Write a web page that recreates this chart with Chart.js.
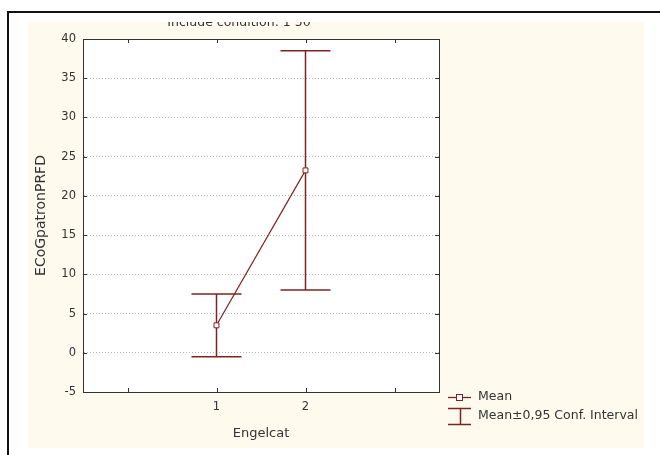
<!DOCTYPE html>
<html>
<head>
<meta charset="utf-8">
<script src="https://cdn.jsdelivr.net/npm/chart.js@4.4.1/dist/chart.umd.min.js"></script>
<style>
html,body{margin:0;padding:0;background:#fff;}
#wrap{width:660px;height:455px;position:relative;}
</style>
</head>
<body>
<div id="wrap"><canvas id="c" width="660" height="455"></canvas></div>
<script>
// ---- data ----
const categories = [1, 2];
const means = [3.5, 23.25];
const ciLow = [-0.5, 8.0];
const ciHigh = [7.5, 38.5];
const yTicks = [-5, 0, 5, 10, 15, 20, 25, 30, 35, 40];
const xTickPositions = [0, 1, 2, 3];
const xTickLabels = ['', '1', '2', ''];
const titleText = 'Include condition: 1 50';
const yTitle = 'ECoGpatronPRFD';
const xTitle = 'Engelcat';
const legendLabels = ['Mean', 'Mean\u00B10,95 Conf. Interval'];

const RED = '#7e2222';
const FONT = 'DejaVu Sans';

const meanData = categories.map((c, i) => ({x: c, y: means[i]}));
const barData = [];
categories.forEach((c, i) => {
  barData.push({x: c, y: ciLow[i]});
  barData.push({x: c, y: ciHigh[i]});
  barData.push({x: c, y: null});
});
const capData = [];
categories.forEach((c, i) => {
  capData.push({x: c, y: ciLow[i]});
  capData.push({x: c, y: ciHigh[i]});
});

const framePlugin = {
  id: 'frame',
  beforeDraw(chart) {
    const ctx = chart.ctx;
    ctx.save();
    ctx.fillStyle = '#ffffff';
    ctx.fillRect(0, 0, 660, 455);
    ctx.fillStyle = '#111';
    ctx.fillRect(7, 11, 653, 2);
    ctx.fillRect(7, 11, 2, 444);
    ctx.fillStyle = '#fffaee';
    ctx.fillRect(28, 22, 616, 426);
    const a = chart.chartArea;
    ctx.fillStyle = '#ffffff';
    ctx.fillRect(a.left, a.top, a.right - a.left, a.bottom - a.top);
    ctx.beginPath();
    ctx.rect(28, 22, 616, 426);
    ctx.clip();
    ctx.fillStyle = '#333';
    ctx.font = '12.5px "' + FONT + '"';
    ctx.textAlign = 'center';
    ctx.textBaseline = 'alphabetic';
    ctx.fillText(titleText, 239, 26);
    ctx.restore();
  },
  afterDraw(chart) {
    const ctx = chart.ctx;
    const a = chart.chartArea;
    const xs = chart.scales.x, ys = chart.scales.y;
    ctx.save();
    ctx.strokeStyle = '#333';
    ctx.lineWidth = 1;
    ctx.strokeRect(Math.round(a.left) + 0.5, Math.round(a.top) + 0.5,
      Math.round(a.right - a.left), Math.round(a.bottom - a.top));
    ctx.beginPath();
    xTickPositions.forEach(v => {
      const px = Math.round(xs.getPixelForValue(v)) + 0.5;
      ctx.moveTo(px, a.top); ctx.lineTo(px, a.top + 4);
      ctx.moveTo(px, a.bottom); ctx.lineTo(px, a.bottom - 4);
    });
    yTicks.forEach(v => {
      const py = Math.round(ys.getPixelForValue(v)) + 0.5;
      ctx.moveTo(a.left, py); ctx.lineTo(a.left + 4, py);
      ctx.moveTo(a.right, py); ctx.lineTo(a.right - 4, py);
    });
    ctx.stroke();

    // legend
    const lx = 448, lx2 = 471, lcx = 459.5;
    ctx.strokeStyle = RED;
    ctx.lineWidth = 1.3;
    ctx.beginPath();
    ctx.moveTo(lx, 397.5); ctx.lineTo(lx2, 397.5);
    ctx.stroke();
    ctx.lineWidth = 1;
    ctx.fillStyle = '#fff';
    ctx.fillRect(lcx - 3, 394.5, 6, 6);
    ctx.strokeRect(lcx - 3, 394.5, 6, 6);
    ctx.lineWidth = 1.5;
    ctx.beginPath();
    ctx.moveTo(lx, 408.5); ctx.lineTo(lx2, 408.5);
    ctx.moveTo(Math.round(lcx) + 0.5, 408.5); ctx.lineTo(Math.round(lcx) + 0.5, 424.5);
    ctx.moveTo(lx, 424.5); ctx.lineTo(lx2, 424.5);
    ctx.stroke();
    ctx.fillStyle = '#333';
    ctx.font = '12.5px "' + FONT + '"';
    ctx.textAlign = 'left';
    ctx.textBaseline = 'middle';
    ctx.fillText(legendLabels[0], 478, 397);
    ctx.fillText(legendLabels[1], 478, 416);
    ctx.restore();
  }
};

new Chart(document.getElementById('c'), {
  type: 'scatter',
  data: {
    datasets: [
      {
        label: 'CI',
        data: barData,
        showLine: true,
        spanGaps: false,
        borderColor: RED,
        borderWidth: 1.5,
        pointRadius: 0,
        order: 3
      },
      {
        label: 'caps',
        data: capData,
        showLine: false,
        pointStyle: 'line',
        pointRadius: 25,
        borderColor: RED,
        borderWidth: 1.5,
        order: 2
      },
      {
        label: 'Mean',
        data: meanData,
        showLine: true,
        borderColor: RED,
        borderWidth: 1.2,
        pointStyle: 'rect',
        pointRadius: 3.5,
        pointBackgroundColor: '#fff',
        pointBorderColor: RED,
        pointBorderWidth: 1,
        order: 1
      }
    ]
  },
  options: {
    responsive: false,
    animation: false,
    devicePixelRatio: 1,
    layout: {padding: {left: 0, top: 39, right: 221, bottom: 0}},
    plugins: {legend: {display: false}, tooltip: {enabled: false}, title: {display: false}},
    scales: {
      x: {
        type: 'linear',
        min: -0.5,
        max: 3.5,
        afterBuildTicks(scale) { scale.ticks = xTickPositions.map(v => ({value: v})); },
        afterFit(scale) { scale.height = 63; },
        grid: {display: false, drawTicks: false},
        border: {display: true, color: '#333', width: 1},
        ticks: {
          padding: 8,
          color: '#333',
          font: {family: FONT, size: 11.5},
          callback(v) { const i = xTickPositions.indexOf(v); return i >= 0 ? xTickLabels[i] : ''; }
        },
        title: {display: true, text: xTitle, color: '#333', font: {family: FONT, size: 13}, padding: {top: 0, bottom: 14}}
      },
      y: {
        min: -5,
        max: 40,
        afterBuildTicks(scale) { scale.ticks = yTicks.map(v => ({value: v})); },
        afterFit(scale) { scale.width = 83; },
        grid: {
          drawTicks: false,
          color(ctx) { const v = ctx.tick && ctx.tick.value; return (v === -5 || v === 40) ? 'rgba(0,0,0,0)' : '#b8b8b8'; },
          lineWidth: 1
        },
        border: {display: true, color: '#333', width: 1, dash: [1, 2]},
        ticks: {padding: 7, color: '#333', font: {family: FONT, size: 11.5}},
        title: {display: true, text: yTitle, color: '#333', font: {family: FONT, size: 14}, padding: {top: 33, bottom: 0}, align: 'center'}
      }
    }
  },
  plugins: [framePlugin]
});
</script>
</body>
</html>
